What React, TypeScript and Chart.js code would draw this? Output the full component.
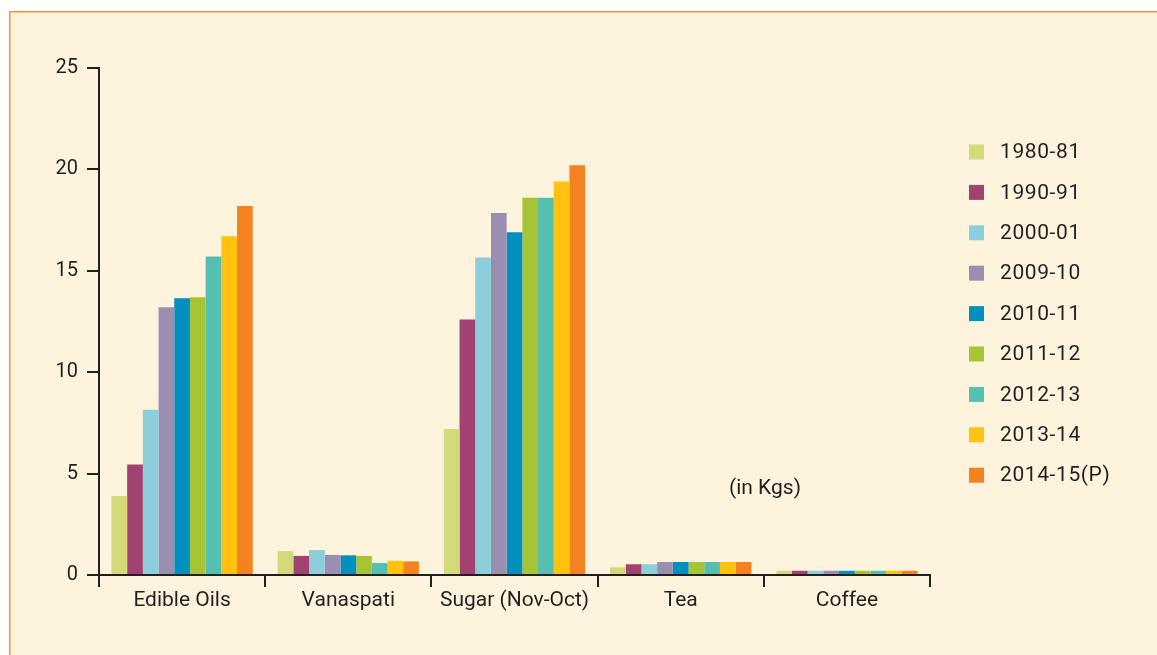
import React, { useEffect, useRef } from 'react';
import { Chart, registerables } from 'chart.js';

Chart.register(...registerables);

const categories = ['Edible Oils', 'Vanaspati', 'Sugar (Nov-Oct)', 'Tea', 'Coffee'];
const seriesLabels = ['1980-81', '1990-91', '2000-01', '2009-10', '2010-11', '2011-12', '2012-13', '2013-14', '2014-15(P)'];
const seriesColors = ['#D4D97A', '#A14273', '#8CCFDA', '#9A8FB0', '#0090BF', '#A5C535', '#55BFB2', '#FFC20E', '#F58220'];

const v1980 = [3.9, 1.18, 7.2, 0.38, 0.21];
const v1990 = [5.45, 0.94, 12.6, 0.53, 0.21];
const v2000 = [8.15, 1.23, 15.65, 0.53, 0.21];
const v2009 = [13.2, 0.99, 17.85, 0.64, 0.21];
const v2010 = [13.65, 0.97, 16.9, 0.64, 0.21];
const v2011 = [13.7, 0.94, 18.6, 0.64, 0.21];
const v2012 = [15.7, 0.59, 18.6, 0.64, 0.21];
const v2013 = [16.7, 0.7, 19.4, 0.64, 0.21];
const v2014 = [18.2, 0.67, 20.2, 0.64, 0.21];
const seriesValues = [v1980, v1990, v2000, v2009, v2010, v2011, v2012, v2013, v2014];

const yTicks = [0, 5, 10, 15, 20, 25];
const unitNote = '(in Kgs)';

const INK = '#231F20';
const CREAM = '#FEF3DC';
const ORANGE = '#F7943A';
const FONT = 'Roboto';

const backgroundPlugin = {
  id: 'pageBackground',
  beforeDraw(chart: any) {
    const { ctx, width, height } = chart;
    ctx.save();
    ctx.fillStyle = '#FFFFFF';
    ctx.fillRect(0, 0, width, height);
    ctx.fillStyle = CREAM;
    ctx.fillRect(9, 11, width - 9, height - 11);
    ctx.strokeStyle = ORANGE;
    ctx.lineWidth = 1.5;
    ctx.beginPath();
    ctx.moveTo(9.75, height);
    ctx.lineTo(9.75, 11.75);
    ctx.lineTo(width, 11.75);
    ctx.stroke();
    ctx.restore();
  },
};

const sideLegendPlugin = {
  id: 'sideLegend',
  afterDraw(chart: any) {
    const { ctx, chartArea } = chart;
    ctx.save();
    ctx.font = `21px ${FONT}`;
    ctx.textBaseline = 'middle';
    ctx.textAlign = 'left';
    try { (ctx as any).letterSpacing = '0.6px'; } catch (e) { /* ignore */ }
    chart.data.datasets.forEach((ds: any, i: number) => {
      const cy = chartArea.top + 84 + i * 40.4;
      const bx = chartArea.right + 39;
      ctx.fillStyle = ds.backgroundColor;
      ctx.fillRect(bx, cy - 7.5, 15, 15);
      ctx.fillStyle = INK;
      ctx.fillText(ds.label, bx + 31, cy + 1);
    });
    try { (ctx as any).letterSpacing = '0px'; } catch (e) { /* ignore */ }
    ctx.fillText(unitNote, chartArea.left + 630, chartArea.bottom - 86);
    ctx.restore();
  },
};

export default function App() {
  const canvasRef = useRef<HTMLCanvasElement | null>(null);

  useEffect(() => {
    if (!canvasRef.current) return;
    const chart = new Chart(canvasRef.current, {
      type: 'bar',
      data: {
        labels: categories,
        datasets: seriesLabels.map((label, i) => ({
          label,
          data: seriesValues[i],
          backgroundColor: seriesColors[i],
          borderWidth: 0,
          categoryPercentage: 0.85,
          barPercentage: 1.0,
        })),
      },
      options: {
        responsive: false,
        animation: false,
        devicePixelRatio: 1,
        layout: { padding: { top: 68, left: 39, right: 227, bottom: 40 } },
        plugins: {
          legend: { display: false },
          tooltip: { enabled: false },
        },
        scales: {
          x: {
            grid: {
              display: true,
              drawOnChartArea: false,
              drawTicks: true,
              tickLength: 12,
              color: INK,
              lineWidth: 2,
              offset: true,
            },
            border: { display: true, color: INK, width: 2 },
            ticks: { color: INK, font: { family: FONT, size: 21 }, padding: 1 },
            afterFit: (scale: any) => {
              scale.height = 40;
            },
          },
          y: {
            min: yTicks[0],
            max: yTicks[yTicks.length - 1],
            afterBuildTicks: (scale: any) => {
              scale.ticks = yTicks.map((v) => ({ value: v }));
            },
            grid: {
              display: true,
              drawOnChartArea: false,
              drawTicks: true,
              tickLength: 12,
              color: INK,
              lineWidth: 2,
            },
            border: { display: true, color: INK, width: 2 },
            ticks: { color: INK, font: { family: FONT, size: 20 }, padding: 9 },
            afterFit: (scale: any) => {
              scale.width = 60;
            },
          },
        },
      },
      plugins: [backgroundPlugin, sideLegendPlugin],
    });
    return () => chart.destroy();
  }, []);

  return (
    <div style={{ position: 'fixed', left: 0, top: 0, width: 1157, height: 655 }}>
      <canvas ref={canvasRef} width={1157} height={655} style={{ display: 'block' }} />
    </div>
  );
}
